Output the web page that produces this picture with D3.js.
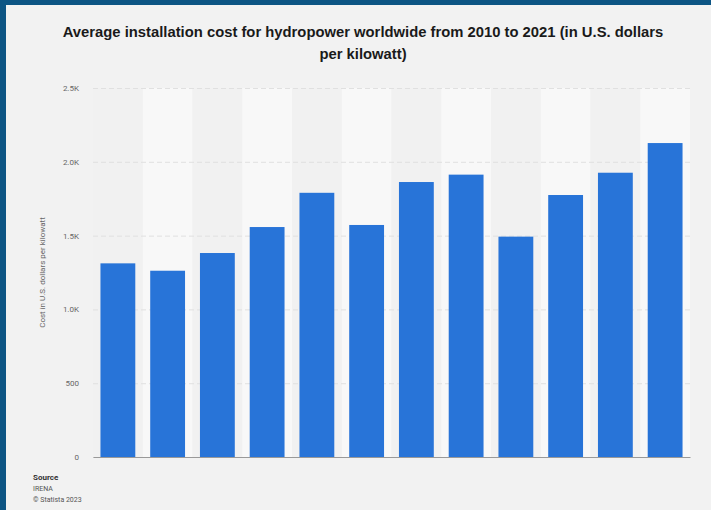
<!DOCTYPE html>
<html>
<head>
<meta charset="utf-8">
<script src="https://cdn.jsdelivr.net/npm/d3@7"></script>
<style>
  body { margin: 0; background: #f2f2f2; }
  #chart { width: 711px; height: 510px; }
</style>
</head>
<body>
<div id="chart"></div>
<script>
// years (x labels are not shown in the picture)
let years = ['2010', '2011', '2012', '2013', '2014', '2015', '2016', '2017', '2018', '2019', '2020', '2021'];
// cost in U.S. dollars per kilowatt
let costs = [1312, 1262, 1382, 1558, 1790, 1572, 1863, 1913, 1493, 1775, 1926, 2127];
let yTicks = [0, 500, 1000, 1500, 2000, 2500];
let yTickLabels = ['0', '500', '1.0K', '1.5K', '2.0K', '2.5K'];

let titleLines = ['Average installation cost for hydropower worldwide from 2010 to 2021 (in U.S. dollars', 'per kilowatt)'];

function barChart() {
    let W = 711, H = 510;
    let margin = {top: 88, right: 21, bottom: 53, left: 93};
    let width = W - margin.left - margin.right;
    let height = H - margin.top - margin.bottom;

    let svg = d3.select('#chart').append('svg')
                .attr('width', W)
                .attr('height', H)
                .style('font-family', 'Roboto, Arial, sans-serif');

    svg.append('rect').attr('width', W).attr('height', H).attr('fill', '#f2f2f2');

    // frame on the left and top
    svg.append('rect').attr('x', 0).attr('y', 0).attr('width', 6).attr('height', H).attr('fill', '#0d5584');
    svg.append('rect').attr('x', 0).attr('y', 0).attr('width', W).attr('height', 5).attr('fill', '#0d5584');

    svg.selectAll('text.title')
        .data(titleLines)
        .enter()
        .append('text')
        .attr('class', 'title')
        .attr('x', 363)
        .attr('y', function(d, i) { return 37 + i * 22 })
        .attr('text-anchor', 'middle')
        .attr('font-size', 14.8)
        .attr('font-weight', 'bold')
        .attr('fill', '#1a1a1a')
        .style('font-family', '"Liberation Sans", Arial, sans-serif')
        .text(function(d) { return d });

    let plot = svg.append('g')
                  .attr('transform', 'translate(' + margin.left + ',' + margin.top + ')');

    let band = d3.scaleBand().domain(years).range([0, width]).padding(0);
    let xScale = d3.scaleBand().domain(years).range([0, width]).paddingInner(0.3).paddingOuter(0.15);
    let yScale = d3.scaleLinear().domain([0, 2500]).range([height, 0]);

    /* alternating column shading */
    plot.selectAll('.col')
        .data(years)
        .enter()
        .append('rect')
        .attr('class', 'col')
        .attr('x', function(d) { return band(d) })
        .attr('y', 0)
        .attr('width', band.bandwidth())
        .attr('height', height)
        .attr('fill', function(d, i) { return i % 2 ? '#f8f8f8' : '#f1f1f1' });

    /* grid lines */
    let grid = d3.axisLeft(yScale)
        .tickValues(yTicks)
        .tickSize(-width)
        .tickFormat('');
    plot.append('g')
        .attr('class', 'grid')
        .call(grid)
        .call(function(g) {
            g.select('.domain').remove();
            g.selectAll('line').attr('stroke', '#e0e0e0').attr('stroke-dasharray', '5,3');
        });

    plot.selectAll('.bar')
        .data(costs)
        .enter()
        .append('rect')
        .attr('class', 'bar')
        .attr('x', function(d, i) { return xScale(years[i]) })
        .attr('y', function(d) { return yScale(d) })
        .attr('width', xScale.bandwidth())
        .attr('height', function(d) { return height - yScale(d) })
        .attr('fill', '#2874d8');

    /* y-axis labels */
    let yAxis = d3.axisLeft(yScale)
        .tickValues(yTicks)
        .tickSize(0)
        .tickPadding(14)
        .tickFormat(function(d, i) { return yTickLabels[i] });
    plot.append('g')
        .attr('class', 'axis')
        .call(yAxis)
        .call(function(g) {
            g.select('.domain').remove();
            g.selectAll('text').attr('font-size', 8).attr('fill', '#666').style('font-family', 'Roboto, Arial, sans-serif');
        });

    /* baseline */
    let xAxis = d3.axisBottom(xScale).tickSize(0).tickFormat('');
    plot.append('g')
        .attr('transform', 'translate(0,' + height + ')')
        .call(xAxis)
        .call(function(g) {
            g.select('.domain').attr('stroke', '#999');
        });

    svg.append('text')
        .attr('transform', 'translate(45,' + (margin.top + height / 2) + ') rotate(-90)')
        .attr('text-anchor', 'middle')
        .attr('font-size', 8)
        .attr('fill', '#666')
        .text('Cost in U.S. dollars per kilowatt');

    let src = svg.append('g').attr('transform', 'translate(33,0)');
    src.append('text').attr('y', 480).attr('font-size', 8).attr('font-weight', 'bold').attr('fill', '#333').text('Source');
    src.append('text').attr('y', 491).attr('font-size', 7).attr('fill', '#555').text('IRENA');
    src.append('text').attr('y', 502).attr('font-size', 7).attr('fill', '#555').text('© Statista 2023');
}

barChart();
</script>
</body>
</html>
